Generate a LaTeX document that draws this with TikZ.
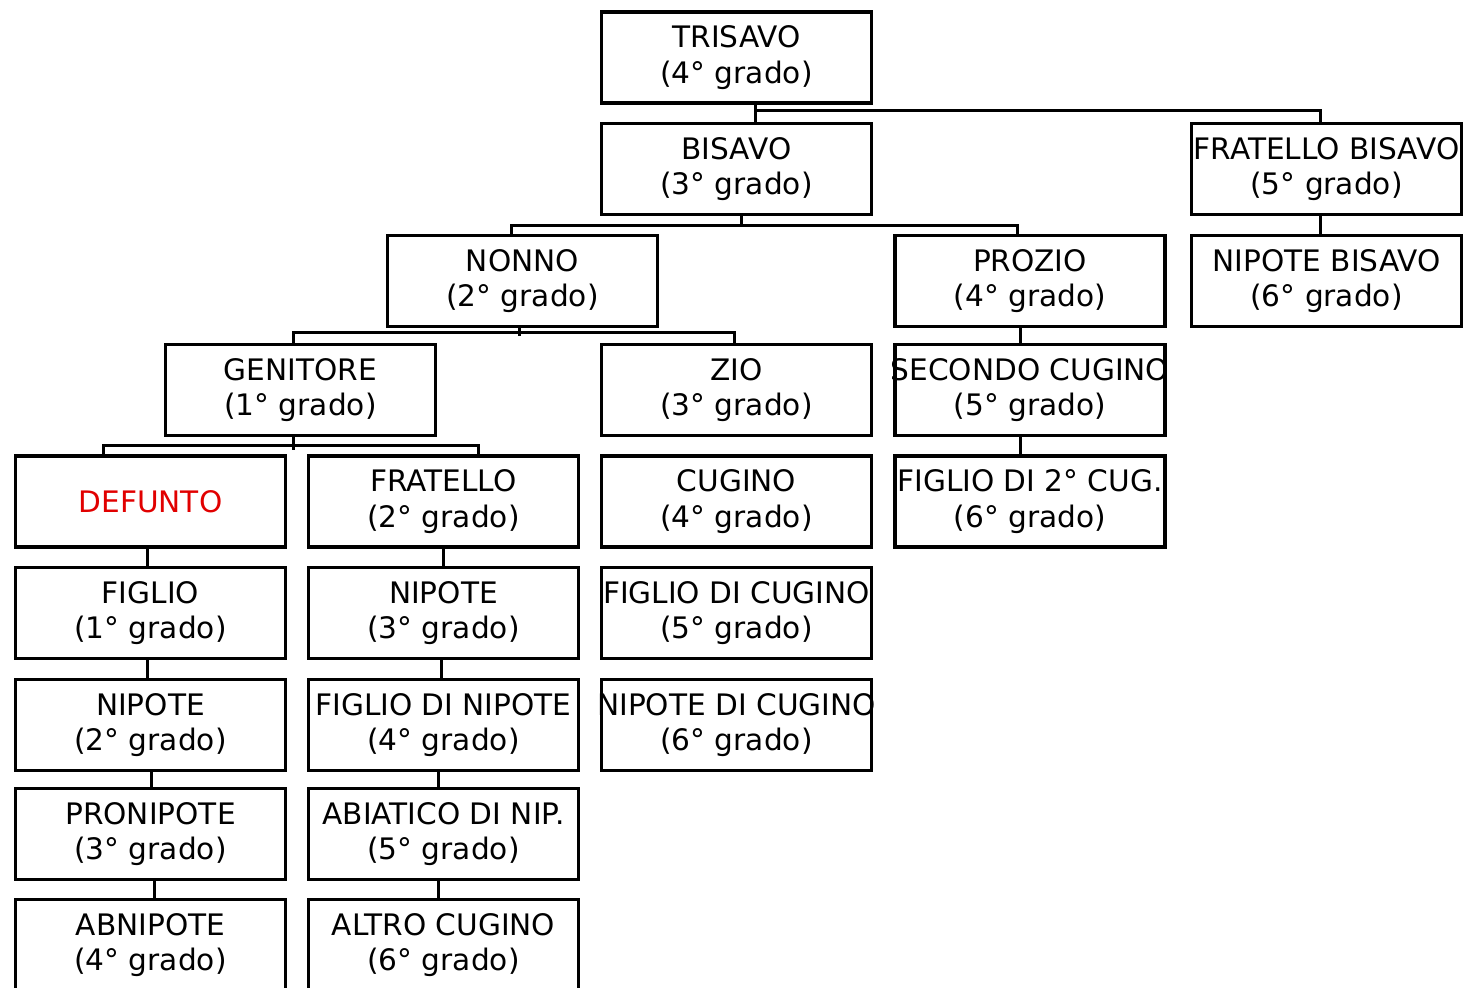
\documentclass[tikz,border=0pt]{standalone}
\usepackage{fontspec}
\setmainfont{DejaVu Sans}
\newcommand\ctr[1]{\makebox[0pt][c]{#1}}
\begin{document}
\begin{tikzpicture}[x=0.5pt,y=-0.5pt,
  box/.style={draw, line width=1.6pt, minimum width=135pt, minimum height=45.5pt, inner sep=0pt, align=center, font=\fontsize{14.8}{17.6}\selectfont},
  conn/.style={line width=1.5pt}]
\useasboundingbox[fill=white] (0,0) rectangle (1466,987);
% column 0
\node[box, text={rgb,255:red,225;green,0;blue,0}] (defunto) at (150.5,501.5) {\ctr{DEFUNTO}};
\node[box] (figlio) at (150.5,613) {\ctr{FIGLIO}\\\ctr{(1° grado)}};
\node[box] (nipote) at (150.5,725) {\ctr{NIPOTE}\\\ctr{(2° grado)}};
\node[box] (pronipote) at (150.5,834) {\ctr{PRONIPOTE}\\\ctr{(3° grado)}};
\node[box] (abnipote) at (150.5,945) {\ctr{ABNIPOTE}\\\ctr{(4° grado)}};
% genitore
\node[box] (genitore) at (300.5,390) {\ctr{GENITORE}\\\ctr{(1° grado)}};
% column 1
\node[box] (fratello) at (443.5,501.5) {\ctr{FRATELLO}\\\ctr{(2° grado)}};
\node[box] (nipoteb) at (443.5,613) {\ctr{NIPOTE}\\\ctr{(3° grado)}};
\node[box] (figlionip) at (443.5,725) {\ctr{FIGLIO DI NIPOTE}\\\ctr{(4° grado)}};
\node[box] (abiatico) at (443.5,834) {\ctr{ABIATICO DI NIP.}\\\ctr{(5° grado)}};
\node[box] (altro) at (443.5,945) {\ctr{ALTRO CUGINO}\\\ctr{(6° grado)}};
% nonno
\node[box] (nonno) at (522.5,281) {\ctr{NONNO}\\\ctr{(2° grado)}};
% column 2
\node[box] (trisavo) at (736.5,57.5) {\ctr{TRISAVO}\\\ctr{(4° grado)}};
\node[box] (bisavo) at (736.5,169) {\ctr{BISAVO}\\\ctr{(3° grado)}};
\node[box] (zio) at (736.5,390) {\ctr{ZIO}\\\ctr{(3° grado)}};
\node[box] (cugino) at (736.5,501.5) {\ctr{CUGINO}\\\ctr{(4° grado)}};
\node[box] (figliocug) at (736.5,613) {\ctr{FIGLIO DI CUGINO}\\\ctr{(5° grado)}};
\node[box] (nipotecug) at (736.5,725) {\ctr{NIPOTE DI CUGINO}\\\ctr{(6° grado)}};
% column 3
\node[box] (prozio) at (1030,281) {\ctr{PROZIO}\\\ctr{(4° grado)}};
\node[box] (secondo) at (1030,390) {\ctr{SECONDO CUGINO}\\\ctr{(5° grado)}};
\node[box] (figlio2) at (1030,501.5) {\ctr{FIGLIO DI 2° CUG.}\\\ctr{(6° grado)}};
% column 4
\node[box] (fratbis) at (1326.5,169) {\ctr{FRATELLO BISAVO}\\\ctr{(5° grado)}};
\node[box] (nipbis) at (1326.5,281) {\ctr{NIPOTE BISAVO}\\\ctr{(6° grado)}};
% connectors
\draw[conn] ([xshift=9.25pt]trisavo.south) -- ([xshift=9.25pt]bisavo.north);
\draw[conn] ([xshift=-3.25pt]fratbis.north) -- ++(0,-11) -| ([xshift=9.25pt]bisavo.north);
\draw[conn] ([xshift=2.25pt]bisavo.south) -- ++(0,11);
\draw[conn] ([xshift=-5.75pt]nonno.north) -- ++(0,-8.5) -| ([xshift=-6.5pt]prozio.north);
\draw[conn] ([xshift=-1.75pt]nonno.south) -- ++(0,7.5);
\draw[conn] ([xshift=-3.75pt]genitore.north) -- ++(0,-10.5) -| ([xshift=-1.25pt]zio.north);
\draw[conn] ([xshift=-3.75pt]genitore.south) -- ++(0,12.5);
\draw[conn] ([xshift=-23.75pt]defunto.north) -- ++(0,-8.5) -| ([xshift=17.25pt]fratello.north);
\draw[conn] ([xshift=-3.25pt]fratbis.south) -- ([xshift=-3.25pt]nipbis.north);
\draw[conn] ([xshift=-5pt]prozio.south) -- ([xshift=-5pt]secondo.north);
\draw[conn] ([xshift=-5pt]secondo.south) -- ([xshift=-5pt]figlio2.north);
\draw[conn] ([xshift=-1.75pt]defunto.south) -- ([xshift=-1.75pt]figlio.north);
\draw[conn] ([xshift=-1.75pt]figlio.south) -- ([xshift=-1.75pt]nipote.north);
\draw[conn] ([xshift=0.25pt]nipote.south) -- ([xshift=0.25pt]pronipote.north);
\draw[conn] ([xshift=1.75pt]pronipote.south) -- ([xshift=1.75pt]abnipote.north);
\draw[conn] (fratello.south) -- (nipoteb.north);
\draw[conn] ([xshift=-1.25pt]nipoteb.south) -- ([xshift=-1.25pt]figlionip.north);
\draw[conn] ([xshift=-2.75pt]figlionip.south) -- ([xshift=-2.75pt]abiatico.north);
\draw[conn] ([xshift=-2.75pt]abiatico.south) -- ([xshift=-2.75pt]altro.north);
\end{tikzpicture}
\end{document}
